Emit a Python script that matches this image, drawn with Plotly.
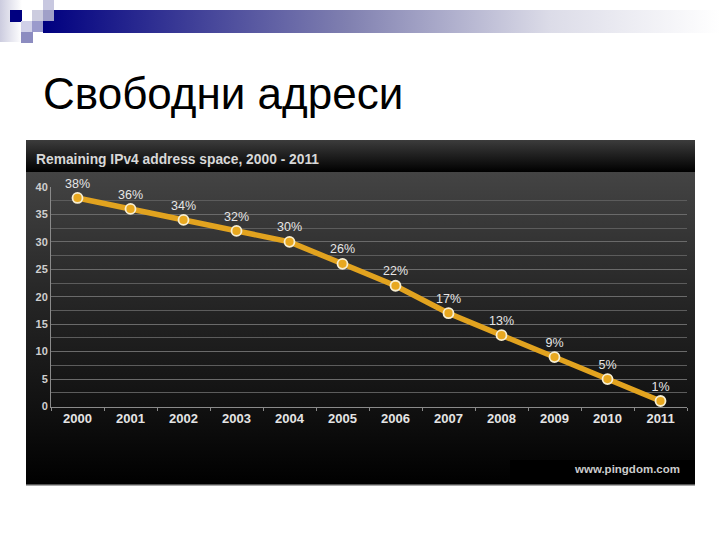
"""Remaining IPv4 address space slide, rebuilt with plotly."""
import base64

import plotly.graph_objects as go

years = list(range(2000, 2012))
remaining = [38, 36, 34, 32, 30, 26, 22, 17, 13, 9, 5, 1]
labels = ['38%', '36%', '34%', '32%', '30%', '26%', '22%', '17%', '13%', '9%', '5%', '1%']
y_ticks = [0, 5, 10, 15, 20, 25, 30, 35, 40]

W, H = 720, 540
FONT = 'Liberation Sans'


def px(x):
    return x / W


def py(y):
    return 1 - y / H


def rect(x0, y0, x1, y1, color):
    return dict(type='rect', xref='paper', yref='paper', x0=px(x0), x1=px(x1), y0=py(y0), y1=py(y1),
                fillcolor=color, line_width=0, layer='below')


def gradient(x0, y0, x1, y1, stops, horizontal=False):
    # plotly shapes have no gradient fill, so use a small svg as a background image
    end = 'x2="1" y2="0"' if horizontal else 'x2="0" y2="1"'
    stop_tags = ''.join(f'<stop offset="{o}" stop-color="{c}"/>' for o, c in stops)
    svg = (f'<svg xmlns="http://www.w3.org/2000/svg" width="{x1 - x0}" height="{y1 - y0}" preserveAspectRatio="none">'
           f'<defs><linearGradient id="g" x1="0" y1="0" {end}>{stop_tags}</linearGradient></defs>'
           f'<rect width="100%" height="100%" fill="url(#g)"/></svg>')
    src = 'data:image/svg+xml;base64,' + base64.b64encode(svg.encode()).decode()
    return dict(source=src, xref='paper', yref='paper', x=px(x0), y=py(y0), sizex=(x1 - x0) / W, sizey=(y1 - y0) / H,
                xanchor='left', yanchor='top', sizing='stretch', layer='below')


images = [
    gradient(43, 10, 720, 33, [(0, '#000080'), (0.45, '#8080b0'), (0.75, '#dcdce8'), (1, '#ffffff')], horizontal=True),
    gradient(0, 0, 22, 42, [(0, '#ccccdf'), (1, '#ffffff')], horizontal=True),
    gradient(26, 172, 695, 485, [(0, '#444444'), (0.4, '#262626'), (0.75, '#111111'), (1, '#000000')]),
    gradient(26, 140, 695, 172, [(0, '#3c3c3c'), (1, '#000000')]),
]

shapes = [
    rect(10, 10, 22, 22, '#000080'),
    rect(43, 0, 54, 10, '#c8c8e0'),
    rect(32, 10, 43, 21, '#ccccdf'),
    rect(43, 10, 54, 21, '#a0a0c8'),
    rect(21, 21, 32, 32, '#d0d0e8'),
    rect(32, 21, 43, 32, '#9a9acc'),
    rect(21, 32, 33, 43, '#8c8cc0'),
    rect(510, 460, 695, 485, '#000000'),
    rect(26, 484, 695, 485.5, '#555555'),
]

fig = go.Figure()
fig.add_trace(go.Scatter(
    x=years, y=remaining, mode='lines+markers+text', text=labels, textposition='top center',
    textfont=dict(family=FONT, size=12.5, color='#e6e6e6'),
    line=dict(color='#e2a31f', width=5.5),
    marker=dict(color='#e8a820', size=10, line=dict(color='#f7eed2', width=1.8)),
    cliponaxis=False, hoverinfo='skip',
))

fig.update_layout(
    width=W, height=H, autosize=False, showlegend=False,
    margin=dict(l=0, r=0, t=0, b=0),
    paper_bgcolor='white', plot_bgcolor='rgba(0,0,0,0)',
    images=images,
    shapes=shapes,
    xaxis=dict(
        domain=[px(51), px(687)], range=[1999.5, 2011.5], tickmode='array', tickvals=years,
        ticktext=[str(y) for y in years], ticklen=0, showgrid=False, zeroline=False, automargin=False,
        showline=True, linecolor='#8a8a8a', linewidth=1,
        tickfont=dict(family=FONT, size=13, color='#e4e4e4', weight='bold'),
        minor=dict(tickmode='array', tickvals=[y - 0.5 for y in years] + [2011.5], ticklen=3,
                   ticks='outside', tickcolor='#8a8a8a'),
    ),
    yaxis=dict(
        domain=[py(406.5), py(187)], range=[0, 40], tickmode='array', tickvals=y_ticks, automargin=False,
        gridcolor='#6a6a6a', gridwidth=1, zeroline=False, showline=True, linecolor='#8a8a8a',
        ticks='', tickfont=dict(family=FONT, size=11, color='#cfcfcf', weight='bold'),
        minor=dict(dtick=2.5, tick0=0, showgrid=True, gridcolor='#5c5c5c', gridwidth=1),
    ),
    annotations=[
        dict(text='Свободни адреси', xref='paper', yref='paper', x=px(41), y=py(93), xanchor='left',
             yanchor='middle', showarrow=False, font=dict(family=FONT, size=44, color='black')),
        dict(text='<b>Remaining IPv4 address space, 2000 - 2011</b>', xref='paper', yref='paper', x=px(34), y=py(159),
             xanchor='left', yanchor='middle', showarrow=False, font=dict(family=FONT, size=13.8, color='#d8d8d8')),
        dict(text='<b>www.pingdom.com</b>', xref='paper', yref='paper', x=px(682), y=py(469),
             xanchor='right', yanchor='middle', showarrow=False, font=dict(family=FONT, size=11.5, color='#cccccc')),
    ],
)

fig.write_html("out.html", config={'displayModeBar': False}, post_script="document.body.style.margin='0';")
